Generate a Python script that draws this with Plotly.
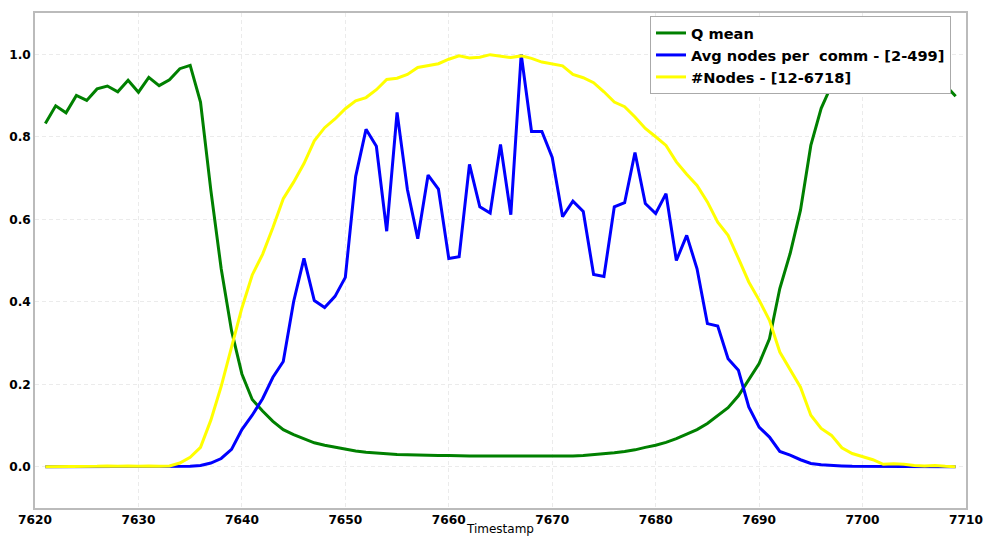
import plotly.graph_objects as go

timestamps = list(range(7621, 7710))

q_mean = [
    0.832, 0.875, 0.858, 0.900, 0.888, 0.916, 0.923, 0.909, 0.937, 0.908,
    0.944, 0.924, 0.938, 0.965, 0.973, 0.884, 0.670, 0.480, 0.330, 0.225,
    0.163, 0.135, 0.110, 0.090, 0.078, 0.068, 0.058, 0.052, 0.047, 0.042,
    0.038, 0.035, 0.033, 0.031, 0.030, 0.029, 0.028, 0.027, 0.027, 0.027,
    0.026, 0.026, 0.026, 0.026, 0.026, 0.025, 0.025, 0.025, 0.025, 0.025,
    0.025, 0.026, 0.027, 0.029, 0.031, 0.034, 0.037, 0.041, 0.047, 0.052,
    0.059, 0.068, 0.079, 0.090, 0.105, 0.124, 0.143, 0.172, 0.210, 0.250,
    0.310, 0.432, 0.517, 0.622, 0.779, 0.869, 0.925, 0.955, 0.970, 0.975,
    0.965, 0.980, 0.970, 0.985, 0.975, 0.960, 0.945, 0.925, 0.898,
]

avg_nodes = [
    0.000, 0.000, 0.000, 0.000, 0.000, 0.000, 0.000, 0.000, 0.001, 0.000,
    0.001, 0.000, 0.000, 0.000, 0.001, 0.003, 0.009, 0.020, 0.042, 0.090,
    0.125, 0.165, 0.217, 0.255, 0.400, 0.505, 0.403, 0.386, 0.413, 0.459,
    0.704, 0.818, 0.777, 0.571, 0.859, 0.672, 0.553, 0.707, 0.673, 0.505,
    0.509, 0.733, 0.630, 0.615, 0.781, 0.611, 1.000, 0.813, 0.813, 0.750,
    0.606, 0.644, 0.619, 0.466, 0.461, 0.630, 0.640, 0.762, 0.638, 0.614,
    0.662, 0.500, 0.561, 0.480, 0.347, 0.341, 0.262, 0.234, 0.145, 0.096,
    0.072, 0.037, 0.028, 0.017, 0.008, 0.005, 0.003, 0.002, 0.001, 0.001,
    0.000, 0.000, 0.000, 0.000, 0.000, 0.000, 0.000, 0.000, 0.000,
]

num_nodes = [
    0.000, 0.000, 0.000, 0.001, 0.001, 0.001, 0.002, 0.001, 0.002, 0.001,
    0.002, 0.001, 0.002, 0.009, 0.023, 0.047, 0.113, 0.195, 0.290, 0.385,
    0.465, 0.515, 0.580, 0.650, 0.690, 0.735, 0.790, 0.822, 0.843, 0.868,
    0.887, 0.895, 0.914, 0.939, 0.942, 0.951, 0.968, 0.972, 0.977, 0.988,
    0.996, 0.991, 0.993, 0.999, 0.996, 0.992, 0.996, 0.990, 0.981, 0.977,
    0.972, 0.951, 0.943, 0.931, 0.909, 0.884, 0.873, 0.848, 0.820, 0.800,
    0.779, 0.739, 0.709, 0.682, 0.642, 0.593, 0.561, 0.505, 0.448, 0.404,
    0.355, 0.278, 0.237, 0.193, 0.125, 0.093, 0.076, 0.046, 0.032, 0.025,
    0.017, 0.006, 0.007, 0.006, 0.003, 0.002, 0.003, 0.001, 0.000,
]

series_names = ["Q mean", "Avg nodes per\u00a0 comm - [2-499]", "#Nodes - [12-6718]"]
series_colors = ["#008000", "#0000FF", "#FFFF00"]
series_values = [q_mean, avg_nodes, num_nodes]

x_ticks = [7620, 7630, 7640, 7650, 7660, 7670, 7680, 7690, 7700, 7710]
y_ticks = [0.0, 0.2, 0.4, 0.6, 0.8, 1.0]

fig = go.Figure()
for name, color, vals in zip(series_names, series_colors, series_values):
    fig.add_trace(go.Scatter(x=timestamps, y=vals, mode="lines", name=name,
                             line=dict(color=color, width=3)))

axis_common = dict(
    showline=True, mirror=True, linecolor="#bbbbbb", linewidth=1.5,
    showgrid=True, gridcolor="#ebebeb", griddash="4px,3px", gridwidth=1,
    zeroline=False, ticks="", automargin=False,
    tickfont=dict(family="DejaVu Sans", size=12.2, color="black", weight="bold"),
)

fig.update_layout(
    width=987, height=536,
    margin=dict(l=35, r=21, t=13, b=28),
    paper_bgcolor="white", plot_bgcolor="white",
    font=dict(family="DejaVu Sans", color="black"),
    xaxis=dict(range=[7620, 7710], tickvals=x_ticks,
               title=dict(text="Timestamp", font=dict(family="DejaVu Sans", size=12, color="black"), standoff=2),
               **axis_common),
    yaxis=dict(range=[-0.1, 1.1], tickvals=y_ticks, tickformat=".1f", **axis_common),
    legend=dict(x=0.6606, y=0.994, xanchor="left", yanchor="top",
                bgcolor="white", bordercolor="#aaaaaa", borderwidth=1,
                font=dict(family="DejaVu Sans", size=14.6, color="black", weight="bold"),
                itemwidth=30, tracegroupgap=0),
    showlegend=True,
)

fig.write_html("out.html")
